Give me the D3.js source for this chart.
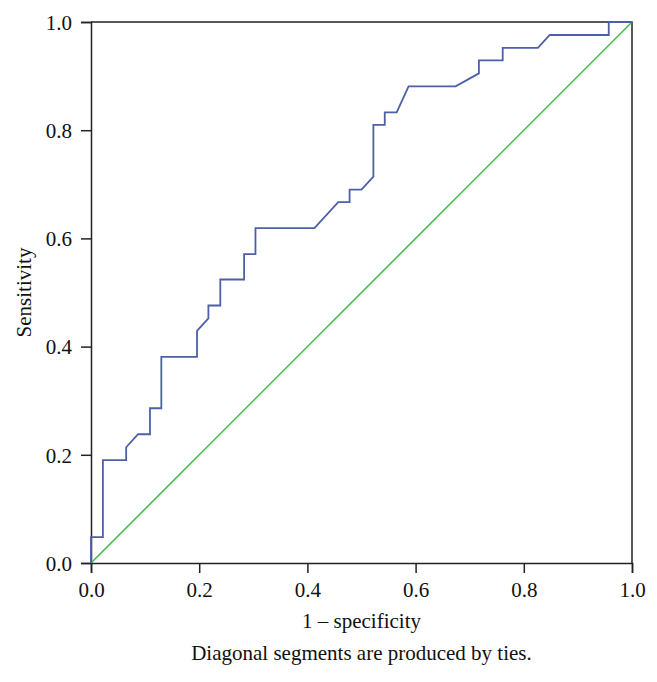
<!DOCTYPE html>
<html>
<head>
<meta charset="utf-8">
<script src="https://cdn.jsdelivr.net/npm/d3@7"></script>
<style>
  body { margin: 0; background: #fff; }
  svg text { font-family: "Liberation Serif", "DejaVu Serif", serif; fill: #111; }
</style>
</head>
<body>
<div id="chart"></div>
<script>
// ROC curve
const fpr = [0, 0, 0.022, 0.022, 0.065, 0.065, 0.087, 0.109, 0.109, 0.130, 0.130, 0.196,
  0.196, 0.217, 0.217, 0.239, 0.239, 0.283, 0.283, 0.304, 0.304, 0.413, 0.457, 0.478,
  0.478, 0.500, 0.522, 0.522, 0.543, 0.543, 0.565, 0.587, 0.674, 0.717, 0.717, 0.761,
  0.761, 0.826, 0.848, 0.957, 0.957, 1.0];
const tpr = [0, 0.048, 0.048, 0.190, 0.190, 0.214, 0.238, 0.238, 0.286, 0.286, 0.381, 0.381,
  0.429, 0.452, 0.476, 0.476, 0.524, 0.524, 0.571, 0.571, 0.619, 0.619, 0.667, 0.667,
  0.690, 0.690, 0.714, 0.810, 0.810, 0.833, 0.833, 0.881, 0.881, 0.905, 0.929, 0.929,
  0.952, 0.952, 0.976, 0.976, 1.0, 1.0];
const reference = [0, 1];
const tickValues = [0, 0.2, 0.4, 0.6, 0.8, 1.0];

const width = 657, height = 682;
const margin = { top: 22, right: 25, bottom: 119, left: 91 };
const FONT = '21px';

const svg = d3.select('#chart').append('svg')
    .attr('width', width)
    .attr('height', height);

const x = d3.scaleLinear().domain([0, 1]).range([margin.left, width - margin.right]);
const y = d3.scaleLinear().domain([0, 1]).range([height - margin.bottom, margin.top]);

// Frame (top and right)
svg.append('path')
    .attr('d', `M${x(0)},${y(1)}H${x(1)}V${y(0)}`)
    .attr('fill', 'none')
    .attr('stroke', '#222')
    .attr('stroke-width', 1.5);

// Axes
const xAxis = svg.append('g')
    .attr('transform', `translate(0,${y(0)})`)
    .call(d3.axisBottom(x).tickValues(tickValues).tickFormat(d3.format('.1f')).tickSize(10).tickPadding(5));
const yAxis = svg.append('g')
    .attr('transform', `translate(${x(0)},0)`)
    .call(d3.axisLeft(y).tickValues(tickValues).tickFormat(d3.format('.1f')).tickSize(10).tickPadding(9));

[xAxis, yAxis].forEach(g => {
    g.select('.domain').attr('stroke', '#222').attr('stroke-width', 1.5);
    g.selectAll('.tick line').attr('stroke', '#222').attr('stroke-width', 1.5);
    g.selectAll('.tick text').style('font-size', FONT).attr('fill', '#111');
});
xAxis.selectAll('.tick text').attr('dy', '0.9em');
yAxis.selectAll('.tick text').attr('dy', '0.35em');

// Reference diagonal
svg.append('path')
    .datum(reference)
    .attr('fill', 'none')
    .attr('stroke', '#3dba4a')
    .attr('stroke-width', 1.5)
    .attr('d', d3.line().x(d => x(d)).y(d => y(d)));

// ROC curve
svg.append('path')
    .datum(d3.range(fpr.length))
    .attr('fill', 'none')
    .attr('stroke', '#4c60a8')
    .attr('stroke-width', 1.8)
    .attr('d', d3.line().x(i => x(fpr[i])).y(i => y(tpr[i])));

// Labels
svg.append('text')
    .attr('x', (x(0) + x(1)) / 2)
    .attr('y', 628)
    .attr('text-anchor', 'middle')
    .style('font-size', FONT)
    .text('1 – specificity');

svg.append('text')
    .attr('x', (x(0) + x(1)) / 2)
    .attr('y', 660)
    .attr('text-anchor', 'middle')
    .style('font-size', FONT)
    .text('Diagonal segments are produced by ties.');

svg.append('text')
    .attr('transform', `translate(31,${(y(0) + y(1)) / 2}) rotate(-90)`)
    .attr('text-anchor', 'middle')
    .style('font-size', FONT)
    .text('Sensitivity');
</script>
</body>
</html>
